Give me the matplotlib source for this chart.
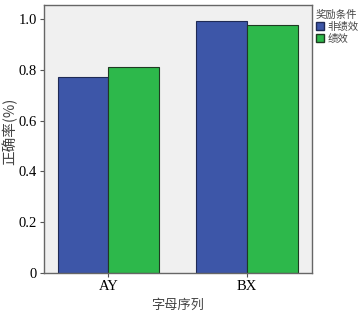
import matplotlib.pyplot as plt
import numpy as np
from matplotlib.patches import Patch
from matplotlib.ticker import FuncFormatter

# accuracy by letter sequence and reward condition
categories = ['AY', 'BX']
non_perf = [0.772, 0.992]
perf = [0.811, 0.976]
series_names = ['非绩效', '绩效']
legend_title = '奖励条件'

plt.rcParams['font.family'] = ['Liberation Serif', 'Noto Sans CJK SC']

fig = plt.figure(figsize=(3.61, 3.13), dpi=100)
ax = fig.add_axes([44 / 361, 1 - 273 / 313, 268 / 361, 268 / 313])
ax.set_facecolor('#f0f0f0')

x = np.arange(len(categories))
w = 0.367
ax.bar(x - w / 2, non_perf, w, color='#3d56a8', edgecolor='#1f2a55', linewidth=0.8)
ax.bar(x + w / 2, perf, w, color='#2db84b', edgecolor='#1f3a22', linewidth=0.8)

ax.set_xlim(-0.465, 1.468)
ax.set_ylim(0, 1.055)
ax.set_xticks(x)
ax.set_xticklabels(categories)
ax.set_yticks([0, 0.2, 0.4, 0.6, 0.8, 1.0])
ax.yaxis.set_major_formatter(FuncFormatter(lambda v, p: '0' if v == 0 else f'{v:.1f}'))
ax.tick_params(axis='both', labelsize=10.5, length=3, color='#555555', width=0.8, pad=2)
for s in ax.spines.values():
    s.set_color('#666666')
    s.set_linewidth(1.0)

cjk = {'family': 'Noto Sans CJK SC', 'size': 9.5}
ax.set_xlabel('字母序列', fontdict=cjk, color='#444444')
ax.xaxis.set_label_coords(0.5, -0.095)
ax.set_ylabel('正确率(%)', fontdict={'family': 'Noto Sans CJK SC', 'size': 10.5}, color='#444444')
ax.yaxis.set_label_coords(-0.10, 0.53)

handles = [Patch(facecolor='#3d56a8', edgecolor='#1f2a55'),
           Patch(facecolor='#2db84b', edgecolor='#1f3a22')]
leg = fig.legend(handles, series_names, title=legend_title, loc='upper left',
                 bbox_to_anchor=(315 / 361, 1 - 9 / 313), frameon=False,
                 handlelength=0.8, handleheight=0.8,
                 handletextpad=0.3, borderpad=0.1, borderaxespad=0, labelspacing=0.15,
                 prop={'family': 'Noto Sans CJK SC', 'size': 7.5},
                 title_fontproperties={'family': 'Noto Sans CJK SC', 'size': 7.5})
leg._legend_box.align = 'left'
leg.get_title().set_color('#444444')
for t in leg.get_texts():
    t.set_color('#444444')

fig.savefig('out.png', dpi=100)
